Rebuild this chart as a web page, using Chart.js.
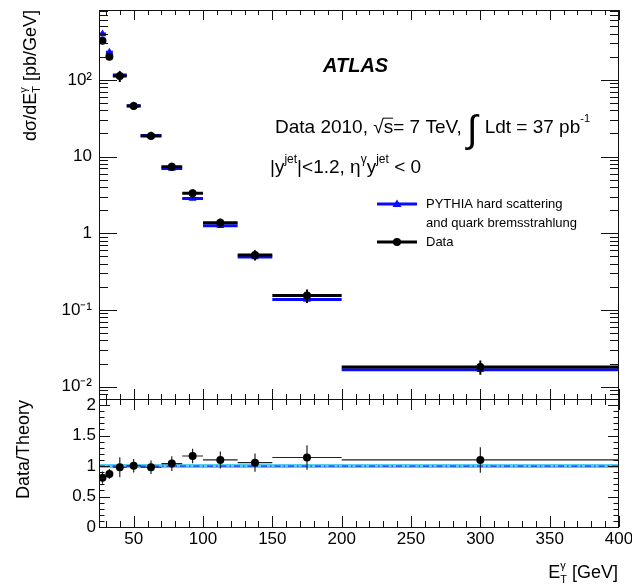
<!DOCTYPE html>
<html>
<head>
<meta charset="utf-8">
<script src="https://cdn.jsdelivr.net/npm/chart.js@4/dist/chart.umd.min.js"></script>
<style>
html, body { margin: 0; padding: 0; background: #fff; }
#wrap { position: relative; width: 632px; height: 588px; }
#wrap canvas { position: absolute; left: 0; top: 0; }
</style>
</head>
<body>
<div id="wrap">
  <canvas id="xsec" width="632" height="588"></canvas>
  <canvas id="ratio" width="632" height="588"></canvas>
</div>
<script>
// photon E_T bins [GeV]
const binLo = [25, 30, 35, 45, 55, 70, 85, 100, 125, 150, 200];
const binHi = [30, 35, 45, 55, 70, 85, 100, 125, 150, 200, 400];
const etCentre = [27.5, 32.5, 40, 50, 62.5, 77.5, 92.5, 112.5, 137.5, 175, 300];

// dsigma/dE_T [pb/GeV]
const dataXsec = [324, 201, 112, 45.7, 18.6, 7.38, 3.32, 1.37, 0.521, 0.154, 0.0181];
const dataXsecErr = [32, 16, 18, 5, 2, 0.9, 0.4, 0.19, 0.078, 0.031, 0.0038];
const pythiaXsec = [397, 229, 116, 46, 18.8, 7.0, 2.85, 1.25, 0.49, 0.137, 0.0166];
const pythiaXsecErr = [30, 14, 4, 1.2, 0.4, 0.15, 0.06, 0.025, 0.01, 0.003, 0.0004];

// data / theory
const ratio = [0.81, 0.87, 0.98, 1.005, 0.98, 1.04, 1.165, 1.10, 1.055, 1.14, 1.10];
const ratioErr = [0.10, 0.08, 0.165, 0.11, 0.11, 0.12, 0.12, 0.14, 0.15, 0.20, 0.21];

// axis labels
const xsecTicks = [0.01, 0.1, 1, 10, 100];
const xsecTickText = ['10\u207B\u00B2', '10\u207B\u00B9', '1', '10', '10\u00B2'];
const ratioTicks = [0, 0.5, 1, 1.5, 2];
const ratioTickText = ['0', '0.5', '1', '1.5', '2'];
const etTicks = [50, 100, 150, 200, 250, 300, 350, 400];

const FONT = '"Liberation Sans", Arial, Helvetica, sans-serif';
const BLUE = '#0a0aff';

function setFont(ctx, size, style) {
  ctx.font = (style || '') + ' ' + size + 'px ' + FONT;
}

// draws a run of text pieces; a piece may carry a stacked subscript
function richText(ctx, x, y, parts, align) {
  let total = 0;
  parts.forEach(p => {
    setFont(ctx, p.size, p.style);
    p.w = ctx.measureText(p.t).width;
    if (p.sub) p.w = Math.max(p.w, ctx.measureText(p.sub).width);
    total += p.w + (p.pad || 0);
  });
  let cx = align === 'right' ? x - total : x;
  ctx.textAlign = 'left';
  ctx.textBaseline = 'alphabetic';
  parts.forEach(p => {
    setFont(ctx, p.size, p.style);
    ctx.fillText(p.t, cx, y + (p.dy || 0));
    if (p.sub) ctx.fillText(p.sub, cx, y + p.subDy);
    if (p.over) {
      ctx.save();
      ctx.lineWidth = 1;
      ctx.beginPath();
      ctx.moveTo(cx - 1, y - p.size * 0.78);
      ctx.lineTo(cx + p.w, y - p.size * 0.78);
      ctx.stroke();
      ctx.restore();
    }
    cx += p.w + (p.pad || 0);
  });
}

// horizontal bin bars and vertical uncertainties
const errorBars = {
  id: 'errorBars',
  beforeDatasetDraw(chart, args) {
    const ds = chart.data.datasets[args.index];
    if (!ds.xLo) return;
    const { ctx, scales: { x, y } } = chart;
    ctx.save();
    ctx.strokeStyle = ds.barColor;
    ctx.lineWidth = ds.barWidth;
    ctx.beginPath();
    ds.data.forEach((p, i) => {
      const py = y.getPixelForValue(p.y);
      ctx.moveTo(x.getPixelForValue(ds.xLo[i]), py);
      ctx.lineTo(x.getPixelForValue(ds.xHi[i]), py);
    });
    ctx.stroke();
    ctx.lineWidth = ds.errWidth;
    ctx.beginPath();
    ds.data.forEach((p, i) => {
      const px = x.getPixelForValue(p.x);
      ctx.moveTo(px, y.getPixelForValue(p.y - ds.yErr[i]));
      ctx.lineTo(px, y.getPixelForValue(p.y + ds.yErr[i]));
    });
    ctx.stroke();
    ctx.restore();
  }
};

// box around the plot with inward ticks on all four sides
const frameTicks = {
  id: 'frameTicks',
  afterDatasetsDraw(chart, args, o) {
    const { ctx, chartArea: a, scales: { x, y } } = chart;
    ctx.save();
    ctx.strokeStyle = '#111';
    ctx.lineWidth = 1;
    ctx.beginPath();
    for (let v = 30; v <= 400; v += 10) {
      const px = Math.round(x.getPixelForValue(v)) + 0.5;
      const len = v % 50 === 0 ? o.xMajor : o.xMinor;
      ctx.moveTo(px, a.bottom); ctx.lineTo(px, a.bottom - len);
      ctx.moveTo(px, a.top); ctx.lineTo(px, a.top + len);
    }
    o.yTicks.forEach(t => {
      const py = Math.round(y.getPixelForValue(t[0])) + 0.5;
      if (py < a.top || py > a.bottom + 1) return;
      const len = t[1] ? o.yMajor : o.yMinor;
      ctx.moveTo(a.left, py); ctx.lineTo(a.left + len, py);
      ctx.moveTo(a.right, py); ctx.lineTo(a.right - len, py);
    });
    ctx.stroke();
    ctx.strokeRect(Math.round(a.left) + 0.5, Math.round(a.top) + 0.5,
      Math.round(a.width) - 1, Math.round(a.height));
    ctx.restore();
  }
};

const logMinor = [];
for (let d = -3; d <= 2; d++) {
  for (let m = 1; m <= 9; m++) logMinor.push([m * Math.pow(10, d), m === 1]);
}
const linMinor = [];
for (let i = 0; i <= 21; i++) linMinor.push([i / 10, i % 5 === 0]);

// labels, legend and axis titles of the cross-section panel
const xsecText = {
  id: 'xsecText',
  afterDraw(chart) {
    const ctx = chart.ctx;
    ctx.save();
    ctx.fillStyle = '#000';
    ctx.strokeStyle = '#000';

    richText(ctx, 323, 72, [{ t: 'ATLAS', size: 20, style: 'italic bold' }]);

    richText(ctx, 275, 133, [
      { t: 'Data 2010, ', size: 19 },
      { t: '\u221A', size: 19, pad: 0 },
      { t: 's', size: 19, over: true },
      { t: '= 7 TeV, ', size: 19 },
      { t: '\u222B', size: 38, dy: 9, style: '', pad: 2 },
      { t: ' Ldt = 37 pb', size: 19 },
      { t: '-1', size: 11, dy: -11 }
    ]);

    richText(ctx, 270, 173, [
      { t: '|y', size: 19 },
      { t: 'jet', size: 12, dy: -10 },
      { t: '|<1.2, \u03B7', size: 19 },
      { t: '\u03B3', size: 12, dy: -10 },
      { t: 'y', size: 19 },
      { t: 'jet', size: 12, dy: -10 },
      { t: ' < 0', size: 19 }
    ]);

    // legend
    ctx.lineWidth = 3;
    ctx.strokeStyle = BLUE;
    ctx.beginPath(); ctx.moveTo(377, 204); ctx.lineTo(417, 204); ctx.stroke();
    ctx.fillStyle = BLUE;
    ctx.beginPath(); ctx.moveTo(397, 199.5); ctx.lineTo(401.5, 207); ctx.lineTo(392.5, 207); ctx.closePath(); ctx.fill();
    ctx.strokeStyle = '#000';
    ctx.beginPath(); ctx.moveTo(377, 242); ctx.lineTo(417, 242); ctx.stroke();
    ctx.fillStyle = '#000';
    ctx.beginPath(); ctx.arc(397, 242, 4, 0, Math.PI * 2); ctx.fill();
    setFont(ctx, 13);
    ctx.textBaseline = 'middle';
    ctx.fillText('PYTHIA hard scattering', 426, 204);
    ctx.fillText('and quark bremsstrahlung', 426, 223);
    ctx.fillText('Data', 426, 242);

    // y title, rotated
    ctx.translate(36, 10);
    ctx.rotate(-Math.PI / 2);
    richText(ctx, 0, 0, [
      { t: 'd\u03C3/dE', size: 18 },
      { t: '\u03B3', size: 11, dy: -9, sub: 'T', subDy: 4 },
      { t: ' [pb/GeV]', size: 18 }
    ], 'right');
    ctx.restore();
  }
};

const ratioText = {
  id: 'ratioText',
  afterDraw(chart) {
    const ctx = chart.ctx;
    ctx.save();
    ctx.fillStyle = '#000';
    richText(ctx, 618, 578, [
      { t: 'E', size: 18 },
      { t: '\u03B3', size: 11, dy: -9, sub: 'T', subDy: 5 },
      { t: ' [GeV]', size: 18 }
    ], 'right');
    ctx.translate(29, 400);
    ctx.rotate(-Math.PI / 2);
    richText(ctx, 0, 0, [{ t: 'Data/Theory', size: 18 }], 'right');
    ctx.restore();
  }
};

const tickFont = { family: FONT, size: 17 };

new Chart(document.getElementById('xsec'), {
  type: 'scatter',
  data: {
    datasets: [
      {
        label: 'Data',
        data: etCentre.map((x, i) => ({ x: x, y: dataXsec[i] })),
        xLo: binLo, xHi: binHi, yErr: dataXsecErr,
        barColor: '#000', barWidth: 3, errWidth: 2,
        pointStyle: 'circle', pointRadius: 4, borderWidth: 0,
        backgroundColor: '#000'
      },
      {
        label: 'PYTHIA hard scattering and quark bremsstrahlung',
        data: etCentre.map((x, i) => ({ x: x, y: pythiaXsec[i] })),
        xLo: binLo, xHi: binHi, yErr: pythiaXsecErr,
        barColor: BLUE, barWidth: 3, errWidth: 2,
        pointStyle: 'triangle', pointRadius: 4.5, borderWidth: 0,
        backgroundColor: BLUE
      }
    ]
  },
  options: {
    responsive: false,
    animation: false,
    events: [],
    layout: { padding: { left: 0, right: 13, top: 10, bottom: 189 } },
    plugins: {
      legend: { display: false },
      tooltip: { enabled: false },
      frameTicks: { xMajor: 10, xMinor: 5, yMajor: 18, yMinor: 9, yTicks: logMinor }
    },
    scales: {
      x: { type: 'linear', min: 25, max: 400, display: false },
      y: {
        type: 'logarithmic', min: 0.0069, max: 815,
        grid: { display: false, drawTicks: false },
        border: { display: false },
        afterFit: s => { s.width = 99; s.paddingTop = 0; s.paddingBottom = 0; },
        afterBuildTicks: s => { s.ticks = xsecTicks.map(v => ({ value: v })); },
        ticks: {
          padding: 7, color: '#000', font: tickFont,
          callback: v => xsecTickText[xsecTicks.indexOf(v)]
        }
      }
    }
  },
  plugins: [errorBars, frameTicks, xsecText]
});

new Chart(document.getElementById('ratio'), {
  type: 'scatter',
  data: {
    datasets: [
      {
        label: 'Data/Theory',
        data: etCentre.map((x, i) => ({ x: x, y: ratio[i] })),
        xLo: binLo, xHi: binHi, yErr: ratioErr,
        barColor: '#222', barWidth: 1.2, errWidth: 1.2,
        pointStyle: 'circle', pointRadius: 4, borderWidth: 0,
        backgroundColor: '#000'
      },
      {
        type: 'line',
        data: [{ x: 25, y: 1 }, { x: 400, y: 1 }],
        borderColor: '#2b2bff', borderWidth: 1.3, borderDash: [6, 3, 1.5, 3],
        pointRadius: 0, fill: false
      },
      {
        type: 'line',
        data: [{ x: 25, y: 1 }, { x: 400, y: 1 }],
        borderColor: '#55ccf2', borderWidth: 4,
        pointRadius: 0, fill: false
      }
    ]
  },
  options: {
    responsive: false,
    animation: false,
    events: [],
    layout: { padding: { left: 0, right: 13, top: 399, bottom: 0 } },
    plugins: {
      legend: { display: false },
      tooltip: { enabled: false },
      frameTicks: { xMajor: 11, xMinor: 6, yMajor: 11, yMinor: 5.5, yTicks: linMinor }
    },
    scales: {
      x: {
        type: 'linear', min: 25, max: 400,
        grid: { display: false, drawTicks: false },
        border: { display: false },
        afterFit: s => { s.height = 61; s.paddingLeft = 0; s.paddingRight = 0; },
        afterBuildTicks: s => { s.ticks = etTicks.map(v => ({ value: v })); },
        ticks: { padding: 2, color: '#000', font: tickFont, maxRotation: 0, autoSkip: false }
      },
      y: {
        type: 'linear', min: 0, max: 2.1,
        grid: { display: false, drawTicks: false },
        border: { display: false },
        afterFit: s => { s.width = 99; s.paddingTop = 0; s.paddingBottom = 0; },
        afterBuildTicks: s => { s.ticks = ratioTicks.map(v => ({ value: v })); },
        ticks: {
          padding: 3, color: '#000', font: tickFont,
          callback: v => ratioTickText[ratioTicks.indexOf(v)]
        }
      }
    }
  },
  plugins: [errorBars, frameTicks, ratioText]
});
</script>
</body>
</html>
